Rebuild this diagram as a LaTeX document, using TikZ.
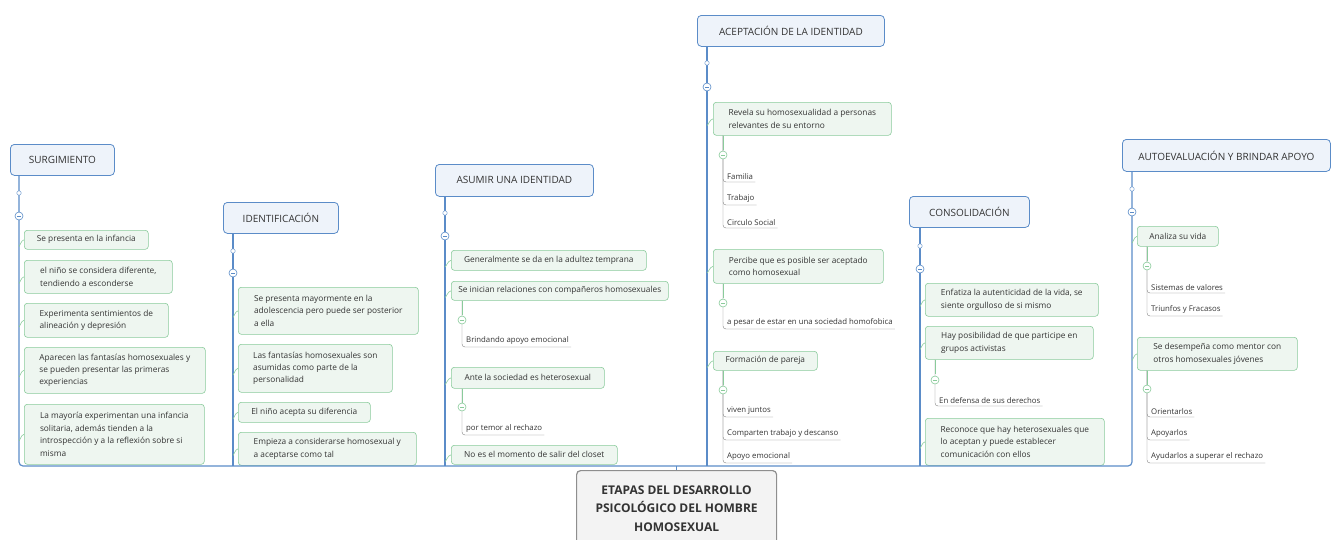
\documentclass[tikz,border=0pt]{standalone}
\usepackage{fontspec}
\setmainfont{Open Sans}
\definecolor{stageblue}{HTML}{5B8CC8}
\definecolor{stagefill}{HTML}{EEF3FA}
\definecolor{ideagreen}{HTML}{8ACB9B}
\definecolor{ideafill}{HTML}{EEF6F0}
\definecolor{subgray}{HTML}{808080}
\definecolor{rootgray}{HTML}{8E8E8E}
\definecolor{rootfill}{HTML}{F3F3F3}
\definecolor{inktext}{HTML}{333333}
\begin{document}
\begin{tikzpicture}[
    x=1pt, y=-1pt,
    stage/.style={draw=stageblue, fill=stagefill, thick, rounded corners=4pt, anchor=north west,
        minimum height=31pt, inner sep=0pt, text=inktext, font=\fontsize{10}{12}\selectfont},
    idea/.style={draw=ideagreen, fill=ideafill, semithick, rounded corners=3pt, anchor=north west,
        align=left, inner sep=0pt, text=inktext, font=\fontsize{8.3}{12.4}\selectfont},
    detail/.style={anchor=south west, inner xsep=2pt, inner ysep=2.5pt, text=inktext,
        font=\fontsize{7.8}{9}\selectfont},
    root/.style={draw=rootgray, fill=rootfill, very thick, rounded corners=4pt, anchor=north west,
        minimum width=200pt, minimum height=76pt, align=center, text=inktext,
        font=\bfseries\fontsize{12}{18.5}\selectfont},
    trunk/.style={draw=stageblue, line width=1.2pt},
    twig/.style={draw=ideagreen, semithick},
    subline/.style={draw=subgray, thin, rounded corners=3pt},
    knob/.style={circle, draw=stageblue, fill=white, thin, inner sep=0pt, minimum size=4.5pt},
    fold/.style={circle, draw=#1, fill=white, semithick, inner sep=0pt, minimum size=8pt,
        path picture={\draw[#1, line width=1pt] ([xshift=-2pt]path picture bounding box.center)
        -- ([xshift=2pt]path picture bounding box.center);}}
    ]
    \useasboundingbox (0,0) rectangle (1332,539);

    %Nodes
    \node[stage, minimum width=104pt] at (10,144) (s1) {SURGIMIENTO};
    \node[stage, minimum width=115pt] at (223,202) (s2) {IDENTIFICACIÓN};
    \node[stage, minimum width=158pt, minimum height=32pt] at (435,164) (s3) {ASUMIR UNA IDENTIDAD};
    \node[stage, minimum width=187pt] at (697,15) (s4) {ACEPTACIÓN DE LA IDENTIDAD};
    \node[stage, minimum width=120pt] at (909,196) (s5) {CONSOLIDACIÓN};
    \node[stage, minimum width=208pt, minimum height=32pt] at (1122,139) (s6) {AUTOEVALUACIÓN Y BRINDAR APOYO};

    \node[root] at (576,470) (root) {ETAPAS DEL DESARROLLO\\PSICOLÓGICO DEL HOMBRE\\HOMOSEXUAL};

    \coordinate (b1) at (19,466);
    \coordinate (b2) at (233,466);
    \coordinate (b3) at (445,466);
    \coordinate (b4) at (707,466);
    \coordinate (b5) at (920,466);
    \coordinate (b6) at (1132,466);

    \node[idea, minimum width=124pt, minimum height=19pt] at (24,230) (a11) {Se presenta en la infancia};
    \node[idea, minimum width=148pt, minimum height=33pt] at (24,260) (a12) {el niño se considera diferente,\\tendiendo a esconderse};
    \node[idea, minimum width=144pt, minimum height=34pt] at (24,303) (a13) {Experimenta sentimientos de\\alineación y depresión};
    \node[idea, minimum width=181pt, minimum height=46pt] at (24,347) (a14) {Aparecen las fantasías homosexuales y\\se pueden presentar las primeras\\experiencias};
    \node[idea, minimum width=180pt, minimum height=60pt] at (24,404) (a15) {La mayoría experimentan una infancia\\solitaria, además tienden a la\\introspección y a la reflexión sobre si\\misma};

    \node[idea, minimum width=180pt, minimum height=47pt] at (238,287) (a21) {Se presenta mayormente en la\\adolescencia pero puede ser posterior\\a ella};
    \node[idea, minimum width=154pt, minimum height=48pt] at (238,344) (a22) {Las fantasías homosexuales son\\asumidas como parte de la\\personalidad};
    \node[idea, minimum width=132pt, minimum height=20pt] at (238,402) (a23) {El niño acepta su diferencia};
    \node[idea, minimum width=178pt, minimum height=33pt] at (238,432) (a24) {Empieza a considerarse homosexual y\\a aceptarse como tal};

    \node[idea, minimum width=195pt, minimum height=20pt] at (451,250) (a31) {Generalmente se da en la adultez temprana};
    \node[idea, minimum width=217pt, minimum height=19pt] at (451,281) (a32) {Se inician relaciones con compañeros homosexuales};
    \node[idea, minimum width=153pt, minimum height=21pt] at (451,367) (a33) {Ante la sociedad es heterosexual};
    \node[idea, minimum width=166pt, minimum height=19pt] at (451,445) (a34) {No es el momento de salir del closet};
    \node[detail] at (464,347) (d321) {Brindando apoyo emocional};
    \node[detail] at (464,435) (d331) {por temor al rechazo};

    \node[idea, minimum width=178pt, minimum height=33pt] at (713,102) (a41) {Revela su homosexualidad a personas\\relevantes de su entorno};
    \node[idea, minimum width=170pt, minimum height=34pt] at (713,249) (a42) {Percibe que es posible ser aceptado\\como homosexual};
    \node[idea, minimum width=104pt, minimum height=19pt] at (713,351) (a43) {Formación de pareja};
    \node[detail] at (725,182) (d411) {Familia};
    \node[detail] at (725,205) (d412) {Trabajo};
    \node[detail] at (725,228) (d413) {Circulo Social};
    \node[detail] at (725,329) (d421) {a pesar de estar en una sociedad homofobica};
    \node[detail] at (725,417) (d431) {viven juntos};
    \node[detail] at (725,440) (d432) {Comparten trabajo y descanso};
    \node[detail] at (725,463) (d433) {Apoyo emocional};

    \node[idea, minimum width=173pt, minimum height=33pt] at (925,283) (a51) {Enfatiza la autenticidad de la vida, se\\siente orgulloso de si mismo};
    \node[idea, minimum width=168pt, minimum height=33pt] at (925,326) (a52) {Hay posibilidad de que participe en\\grupos activistas};
    \node[idea, minimum width=179pt, minimum height=47pt] at (925,418) (a53) {Reconoce que hay heterosexuales que\\lo aceptan y puede establecer\\comunicación con ellos};
    \node[detail] at (937,406) (d521) {En defensa de sus derechos};

    \node[idea, minimum width=81pt, minimum height=20pt] at (1137,226) (a61) {Analiza su vida};
    \node[idea, minimum width=160pt, minimum height=33pt] at (1137,337) (a62) {Se desempeña como mentor con\\otros homosexuales jóvenes};
    \node[detail] at (1149,293) (d611) {Sistemas de valores};
    \node[detail] at (1149,316) (d612) {Triunfos y Fracasos};
    \node[detail] at (1149,417) (d621) {Orientarlos};
    \node[detail] at (1149,440) (d622) {Apoyarlos};
    \node[detail] at (1149,463) (d623) {Ayudarlos a superar el rechazo};

    %Lines
    \draw[trunk, rounded corners=4pt] (s1.south -| b1) -- (b1) -- (b6) -- (s6.south -| b6);
    \draw[trunk] (s2.south -| b2) -- (b2);
    \draw[trunk] (s3.south -| b3) -- (b3);
    \draw[trunk] (s4.south -| b4) -- (b4);
    \draw[trunk] (s5.south -| b5) -- (b5);
    \draw[trunk] (root.north) -- (root.north |- b1);

    \foreach \b/\a in {b1/a11, b1/a12, b1/a13, b1/a14, b1/a15,
                       b2/a21, b2/a22, b2/a23, b2/a24,
                       b3/a31, b3/a32, b3/a33, b3/a34,
                       b4/a41, b4/a42, b4/a43,
                       b5/a51, b5/a52, b5/a53,
                       b6/a61, b6/a62}
        \draw[twig] ([yshift=-6pt]\a.west -| \b) to[out=-90, in=180] (\a.west);

    \coordinate (x3) at (462,0);
    \coordinate (x4) at (723,0);
    \coordinate (x5) at (935,0);
    \coordinate (x6) at (1147,0);
    \foreach \x/\a/\d in {x3/a32/d321, x3/a33/d331,
                          x4/a41/d411, x4/a41/d412, x4/a41/d413,
                          x4/a42/d421,
                          x4/a43/d431, x4/a43/d432, x4/a43/d433,
                          x5/a52/d521,
                          x6/a61/d611, x6/a61/d612,
                          x6/a62/d621, x6/a62/d622, x6/a62/d623}
        \draw[subline] (\a.south -| \x) |- (\d.south east);
    \foreach \x/\a in {x3/a32, x3/a33, x4/a41, x4/a42, x4/a43, x5/a52, x6/a61, x6/a62}
        \draw[twig] (\a.south -| \x) -- ++(0,14);

    % fold markers
    \node[knob] at (19,193) (k1) {};
    \node[knob] at (233,251) (k2) {};
    \node[knob] at (445,213) (k3) {};
    \node[knob] at (707,63) (k4) {};
    \node[knob] at (920,246) (k5) {};
    \node[knob] at (1132,189) (k6) {};
    \node[fold=stageblue] at (19,216) (f1) {};
    \node[fold=stageblue] at (233,273) (f2) {};
    \node[fold=stageblue] at (445,236) (f3) {};
    \node[fold=stageblue] at (707,87) (f4) {};
    \node[fold=stageblue] at (920,269) (f5) {};
    \node[fold=stageblue] at (1132,212) (f6) {};
    \node[fold=ideagreen] at (462,320) (f32) {};
    \node[fold=ideagreen] at (462,407) (f33) {};
    \node[fold=ideagreen] at (723,155) (f41) {};
    \node[fold=ideagreen] at (723,303) (f42) {};
    \node[fold=ideagreen] at (723,390) (f43) {};
    \node[fold=ideagreen] at (935,380) (f52) {};
    \node[fold=ideagreen] at (1147,266) (f61) {};
    \node[fold=ideagreen] at (1147,389) (f62) {};
\end{tikzpicture}
\end{document}
